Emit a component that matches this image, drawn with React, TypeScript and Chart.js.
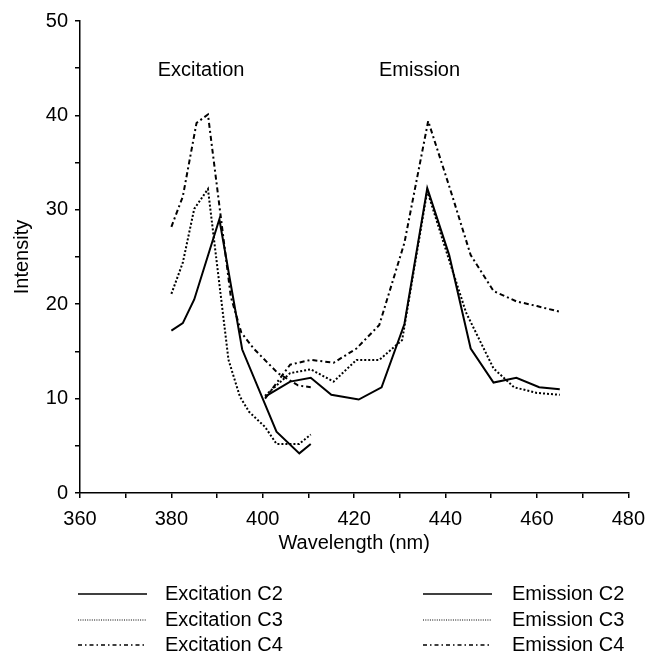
import { useEffect, useRef } from "react";
import { Chart, registerables } from "chart.js";

Chart.register(...registerables);

// ---- data ----
const seriesLabels = [
  "Excitation C2",
  "Excitation C3",
  "Excitation C4",
  "Emission C2",
  "Emission C3",
  "Emission C4",
];

const excC2X = [380, 382.5, 385, 390.5, 395.5, 403, 408, 410.5];
const excC2Y = [17.2, 18.0, 20.5, 29.0, 15.2, 6.5, 4.2, 5.2];

const excC3X = [380, 382.5, 385, 388, 392.5, 395, 397, 400.5, 403, 408, 410.5];
const excC3Y = [21.1, 24.4, 30.1, 32.2, 14.1, 10.2, 8.6, 7.0, 5.2, 5.2, 6.2];

const excC4X = [380, 382.5, 385.5, 388, 393, 395.3, 398, 403.3, 407.7, 410.5];
const excC4Y = [28.2, 31.4, 39.2, 40.1, 20.8, 17.0, 15.3, 12.7, 11.4, 11.2];

const emC2X = [400.5, 406, 410.5, 415, 421, 426, 431, 436, 440.8, 445.5, 450.5, 455.5, 460.5, 465];
const emC2Y = [10.2, 11.8, 12.2, 10.4, 9.9, 11.2, 17.9, 32.3, 25.2, 15.3, 11.7, 12.2, 11.2, 11.0];

const emC3X = [400.5, 406, 410.5, 415.5, 420.5, 425.5, 430.5, 436, 440.5, 444.5, 450.5, 455, 460, 465];
const emC3Y = [10.3, 12.7, 13.1, 11.8, 14.1, 14.1, 16.2, 32.0, 25.1, 19.1, 13.2, 11.2, 10.6, 10.4];

const emC4X = [400.5, 406, 410.5, 415.5, 420.5, 425.5, 431, 436.2, 441, 445.5, 450.5, 455.5, 460, 465];
const emC4Y = [10.0, 13.6, 14.1, 13.8, 15.3, 17.8, 26.5, 39.4, 32.2, 25.2, 21.4, 20.3, 19.8, 19.2];

const xTickValues = [360, 370, 380, 390, 400, 410, 420, 430, 440, 450, 460, 470, 480];
const xTickLabels = [360, 380, 400, 420, 440, 460, 480];
const yTickValues = [0, 5, 10, 15, 20, 25, 30, 35, 40, 45, 50];
const yTickLabels = [0, 10, 20, 30, 40, 50];

const annotationTexts = ["Excitation", "Emission"];
const annotationX = [386.5, 434.3];
const annotationY = [44.8, 44.8];

const FONT = "'Liberation Sans', Arial, Helvetica, sans-serif";

const kinds = ["solid", "dotted", "dashdot"];

function dashFor(kind: string): number[] {
  if (kind === "dotted") return [2, 2];
  if (kind === "dashdot") return [5, 3, 2, 3];
  return [];
}
function legendDashFor(kind: string): number[] {
  if (kind === "dotted") return [1, 1.3];
  if (kind === "dashdot") return [4, 3, 1.5, 3];
  return [];
}

function toPoints(xs: number[], ys: number[]) {
  return xs.map((x, i) => ({ x, y: ys[i] }));
}

const legendPlugin = {
  id: "customLegendAndNotes",
  afterDraw(chart: any) {
    const ctx = chart.ctx as CanvasRenderingContext2D;
    const xs = chart.scales.x;
    const ys = chart.scales.y;
    ctx.save();
    ctx.fillStyle = "#000";
    ctx.font = `20px ${FONT}`;
    ctx.textAlign = "center";
    ctx.textBaseline = "middle";
    annotationTexts.forEach((t, i) => {
      ctx.fillText(t, xs.getPixelForValue(annotationX[i]), ys.getPixelForValue(annotationY[i]));
    });

    // legend: two columns, three rows
    const lineStart = [78, 423];
    const lineEnd = [147, 492];
    const textX = [165, 512];
    const rowY = [594, 620, 645];
    ctx.textAlign = "left";
    chart.data.datasets.forEach((ds: any, i: number) => {
      const col = i < 3 ? 0 : 1;
      const row = i % 3;
      const kind = kinds[row];
      const y = rowY[row];
      ctx.beginPath();
      ctx.setLineDash(legendDashFor(kind));
      ctx.lineWidth = kind === "dotted" ? 1.2 : 1.5;
      ctx.strokeStyle = "#000";
      ctx.moveTo(lineStart[col], y);
      ctx.lineTo(lineEnd[col], y);
      ctx.stroke();
      ctx.setLineDash([]);
      ctx.fillText(ds.label, textX[col], y);
    });
    ctx.restore();
  },
};

export default function App() {
  const canvasRef = useRef<HTMLCanvasElement | null>(null);

  useEffect(() => {
    document.body.style.margin = "0";
    const canvas = canvasRef.current;
    if (!canvas) return;
    const all = [
      toPoints(excC2X, excC2Y),
      toPoints(excC3X, excC3Y),
      toPoints(excC4X, excC4Y),
      toPoints(emC2X, emC2Y),
      toPoints(emC3X, emC3Y),
      toPoints(emC4X, emC4Y),
    ];
    const datasets = all.map((pts, i) => {
      const kind = kinds[i % 3];
      return {
        label: seriesLabels[i],
        data: pts,
        borderColor: "#000",
        backgroundColor: "#000",
        borderWidth: 2,
        borderDash: dashFor(kind),
        pointRadius: 0,
        tension: 0,
        fill: false,
      };
    });

    const chart = new Chart(canvas, {
      type: "line",
      data: { datasets },
      plugins: [legendPlugin],
      options: {
        animation: false,
        responsive: false,
        devicePixelRatio: 1,
        layout: { padding: { left: 0, right: 22, top: 21, bottom: 97 } },
        plugins: {
          legend: { display: false },
          tooltip: { enabled: false },
        },
        scales: {
          x: {
            type: "linear",
            min: 360,
            max: 480,
            afterFit: (scale: any) => {
              scale.height = 62;
            },
            afterBuildTicks: (scale: any) => {
              scale.ticks = xTickValues.map((v) => ({ value: v }));
            },
            ticks: {
              autoSkip: false,
              maxRotation: 0,
              padding: 9,
              color: "#000",
              font: { family: FONT, size: 20 },
              callback: (v: any) => (xTickLabels.includes(Number(v)) ? String(v) : ""),
            },
            grid: {
              drawOnChartArea: false,
              drawTicks: true,
              tickLength: 5,
              color: "#000",
              lineWidth: 1.5,
            },
            border: { display: true, color: "#000", width: 1.5 },
            title: {
              display: true,
              text: "Wavelength (nm)",
              color: "#000",
              font: { family: FONT, size: 20 },
              padding: { top: 0, bottom: 0 },
            },
          },
          y: {
            type: "linear",
            min: 0,
            max: 50,
            afterFit: (scale: any) => {
              scale.width = 80;
            },
            afterBuildTicks: (scale: any) => {
              scale.ticks = yTickValues.map((v) => ({ value: v }));
            },
            ticks: {
              autoSkip: false,
              padding: 7,
              color: "#000",
              font: { family: FONT, size: 20 },
              callback: (v: any) => (yTickLabels.includes(Number(v)) ? String(v) : ""),
            },
            grid: {
              drawOnChartArea: false,
              drawTicks: true,
              tickLength: 5,
              color: "#000",
              lineWidth: 1.5,
            },
            border: { display: true, color: "#000", width: 1.5 },
            title: {
              display: true,
              text: "Intensity",
              color: "#000",
              font: { family: FONT, size: 20 },
              padding: { top: 10, bottom: 0 },
            },
          },
        },
      },
    } as any);

    return () => {
      chart.destroy();
    };
  }, []);

  return (
    <div style={{ width: 654, height: 652, background: "#fff" }}>
      <canvas ref={canvasRef} width={654} height={652} style={{ display: "block" }} />
    </div>
  );
}
